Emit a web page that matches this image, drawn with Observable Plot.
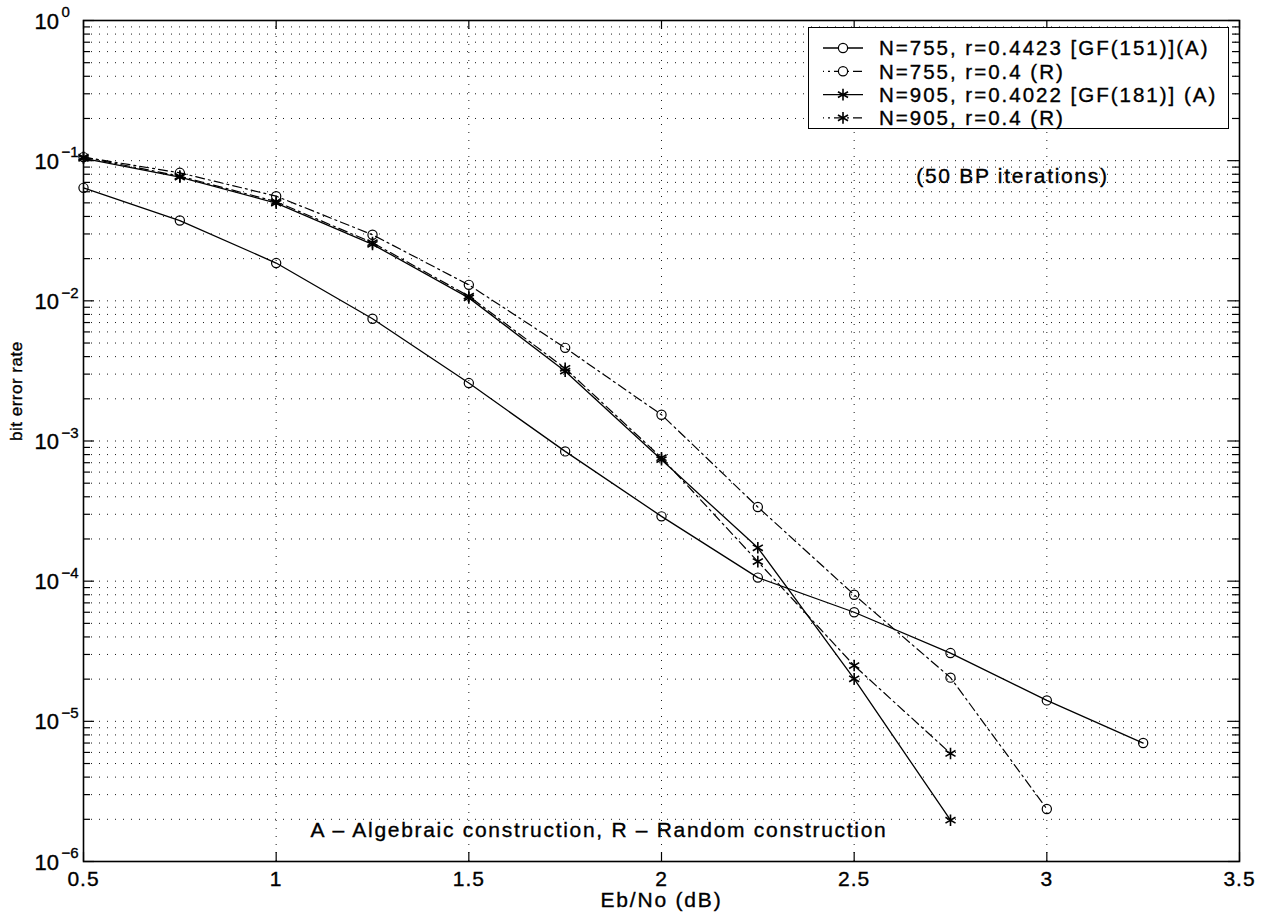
<!DOCTYPE html>
<html><head><meta charset="utf-8">
<script src="https://cdn.jsdelivr.net/npm/d3@7"></script>
<script src="https://cdn.jsdelivr.net/npm/@observablehq/plot@0.6"></script>
<style>
html,body{margin:0;padding:0;background:#fff;}
#wrap{position:relative;width:1267px;height:916px;font-family:"Liberation Sans",Arial,sans-serif;}
#legend{position:absolute;left:808px;top:27px;width:421px;height:102px;background:#fff;border:1.3px solid #000;box-sizing:border-box;}
#legend svg{position:absolute;left:0;top:0;}
#wrap text{stroke:#000;stroke-width:0.35px;}
</style></head><body><div id="wrap"></div>
<script>
// ---- data ----
const ebno = [0.5, 0.75, 1, 1.25, 1.5, 1.75, 2, 2.25, 2.5, 2.75, 3, 3.25];
const ber755A = [0.064, 0.0374, 0.0186, 0.00745, 0.00259, 0.000843, 0.00029, 0.000106, 0.00006, 0.0000307, 0.0000141, 0.000007];
const ber755R = [0.106, 0.0819, 0.0558, 0.0296, 0.0130, 0.00462, 0.00154, 0.000338, 0.00008, 0.0000205, 0.00000237];
const ber905A = [0.104, 0.0763, 0.0498, 0.0253, 0.0105, 0.00315, 0.000736, 0.000173, 0.0000201, 0.00000197];
const ber905R = [0.106, 0.0775, 0.0510, 0.0260, 0.0108, 0.0033, 0.00076, 0.000138, 0.000025, 0.0000059];
const seriesNames = ["N=755, r=0.4423 [GF(151)](A)", "N=755, r=0.4 (R)", "N=905, r=0.4022 [GF(181)] (A)", "N=905, r=0.4 (R)"];
const seriesValues = [ber755A, ber755R, ber905A, ber905R];
const seriesMarker = ["circle", "circle", "asterisk", "asterisk"];
const seriesDashed = [false, true, false, true];
const xTicks = [0.5, 1, 1.5, 2, 2.5, 3, 3.5];
const xTickLabels = ["0.5", "1", "1.5", "2", "2.5", "3", "3.5"];
const yTicks = [1e-6, 1e-5, 1e-4, 1e-3, 1e-2, 1e-1, 1];
const yExponents = ["\u22126", "\u22125", "\u22124", "\u22123", "\u22122", "\u22121", "0"];
const xLabel = "Eb/No (dB)";
const yLabel = "bit error rate";
const noteIter = "(50 BP iterations)";
const noteConstr = "A \u2013 Algebraic construction, R \u2013 Random construction";

// ---- derived table ----
const rows = [];
seriesValues.forEach((vals, i) => vals.forEach((v, j) => rows.push({
  series: seriesNames[i], x: ebno[j], y: v, marker: seriesMarker[i], dashed: seriesDashed[i]
})));
const yMinor = [];
yTicks.slice(0, -1).forEach(d => { for (let m = 2; m <= 9; m++) yMinor.push(d * m); });

const W = 1267, H = 916, mL = 83, mR = 28, mT = 20, mB = 55;
const fw = W - mL - mR, fh = H - mT - mB;
const dotted = "1,7";
const dashdot = "9,4,2,4";

const chart = Plot.plot({
  width: W, height: H,
  marginLeft: mL, marginRight: mR, marginTop: mT, marginBottom: mB,
  style: {fontFamily: '"Liberation Sans", Arial, sans-serif', background: "#fff", color: "#000", overflow: "visible"},
  x: {domain: [0.5, 3.5], axis: null},
  y: {type: "log", domain: [1e-6, 1], axis: null},
  marks: [
    Plot.ruleY(yTicks.concat(yMinor), {stroke: "#000", strokeOpacity: 0.9, strokeDasharray: dotted, strokeWidth: 1}),
    Plot.ruleX(xTicks, {stroke: "#000", strokeOpacity: 0.9, strokeDasharray: dotted, strokeWidth: 1}),
    // inward tick marks
    Plot.tickY(yTicks, {y: d => d, insetRight: fw - 11, stroke: "#000", strokeWidth: 1.2}),
    Plot.tickY(yTicks, {y: d => d, insetLeft: fw - 11, stroke: "#000", strokeWidth: 1.2}),
    Plot.tickY(yMinor, {y: d => d, insetRight: fw - 7, stroke: "#000", strokeWidth: 1.2}),
    Plot.tickY(yMinor, {y: d => d, insetLeft: fw - 7, stroke: "#000", strokeWidth: 1.2}),
    Plot.tickX(xTicks, {x: d => d, insetTop: fh - 9, stroke: "#000", strokeWidth: 1.2}),
    Plot.tickX(xTicks, {x: d => d, insetBottom: fh - 9, stroke: "#000", strokeWidth: 1.2}),
    // series lines
    Plot.line(rows.filter(d => !d.dashed), {x: "x", y: "y", z: "series", stroke: "#000", strokeWidth: 1.3}),
    Plot.line(rows.filter(d => d.dashed), {x: "x", y: "y", z: "series", stroke: "#000", strokeWidth: 1.2, strokeDasharray: dashdot}),
    // markers
    Plot.dot(rows.filter(d => d.marker === "circle"), {x: "x", y: "y", r: 4.6, stroke: "#000", strokeWidth: 1.2, fill: "none"}),
    Plot.dot(rows.filter(d => d.marker === "asterisk"), {x: "x", y: "y", r: 5.5, symbol: "asterisk", stroke: "#000", strokeWidth: 1.6}),
    Plot.frame({stroke: "#000", strokeWidth: 1.6}),
    // y tick labels 10^k
    Plot.text(yTicks, {y: d => d, text: () => "10", frameAnchor: "left", dx: -49, dy: 1, textAnchor: "start", lineAnchor: "middle", fontSize: 22}),
    Plot.text(yTicks, {y: d => d, text: (d, i) => yExponents[i], frameAnchor: "left", dx: -22, dy: -8, textAnchor: "start", lineAnchor: "middle", fontSize: 15}),
    // x tick labels
    Plot.text(xTicks, {x: d => d, text: (d, i) => xTickLabels[i], frameAnchor: "bottom", dy: 10, lineAnchor: "top", fontSize: 21}),
    // axis labels
    Plot.text([xLabel], {frameAnchor: "bottom", dy: 31, lineAnchor: "top", fontSize: 21}),
    Plot.text([yLabel], {frameAnchor: "left", dx: -67, rotate: -90, fontSize: 17}),
    // annotations
    Plot.text([noteIter], {frameAnchor: "top-right", dx: -227, dy: 148, textAnchor: "middle", fontSize: 21}),
    Plot.text([noteConstr], {frameAnchor: "bottom-left", dx: 227, dy: -25, textAnchor: "start", fontSize: 21})
  ]
});
// widen text tracking to match the reference's wide face
const spacing = new Map([[noteConstr, 1.7], [noteIter, 1.7], [xLabel, 1.8], [yLabel, 0.5]]);
xTickLabels.forEach(t => spacing.set(t, 1));
d3.select(chart).selectAll("text").each(function() {
  const s = spacing.get(this.textContent);
  if (s != null) this.setAttribute("letter-spacing", s);
});
const wrap = document.getElementById("wrap");
wrap.appendChild(chart);

// legend box
const leg = document.createElement("div");
leg.id = "legend";
wrap.appendChild(leg);
const ls = d3.select(leg).append("svg").attr("width", 421).attr("height", 102);
seriesNames.forEach((name, i) => {
  const cy = 20 + i * 23.3;
  ls.append("line").attr("x1", 14).attr("x2", 54).attr("y1", cy).attr("y2", cy)
    .attr("stroke", "#000").attr("stroke-width", 1.3)
    .attr("stroke-dasharray", seriesDashed[i] ? "9,4,2,4" : null)
    .attr("stroke-dashoffset", seriesDashed[i] ? 8 : null);
  if (seriesMarker[i] === "circle") {
    ls.append("circle").attr("cx", 34).attr("cy", cy).attr("r", 4.6).attr("fill", "#fff").attr("stroke", "#000").attr("stroke-width", 1.2);
  } else {
    ls.append("path").attr("d", d3.symbol(d3.symbolAsterisk, 95)()).attr("transform", `translate(34,${cy})`)
      .attr("stroke", "#000").attr("stroke-width", 1.6).attr("fill", "none");
  }
  ls.append("text").attr("x", 70).attr("y", cy).attr("dy", "0.36em")
    .attr("font-size", 20.5).attr("letter-spacing", 2).attr("font-family", '"Liberation Sans", Arial, sans-serif')
    .text(name);
});
</script>
</body></html>
